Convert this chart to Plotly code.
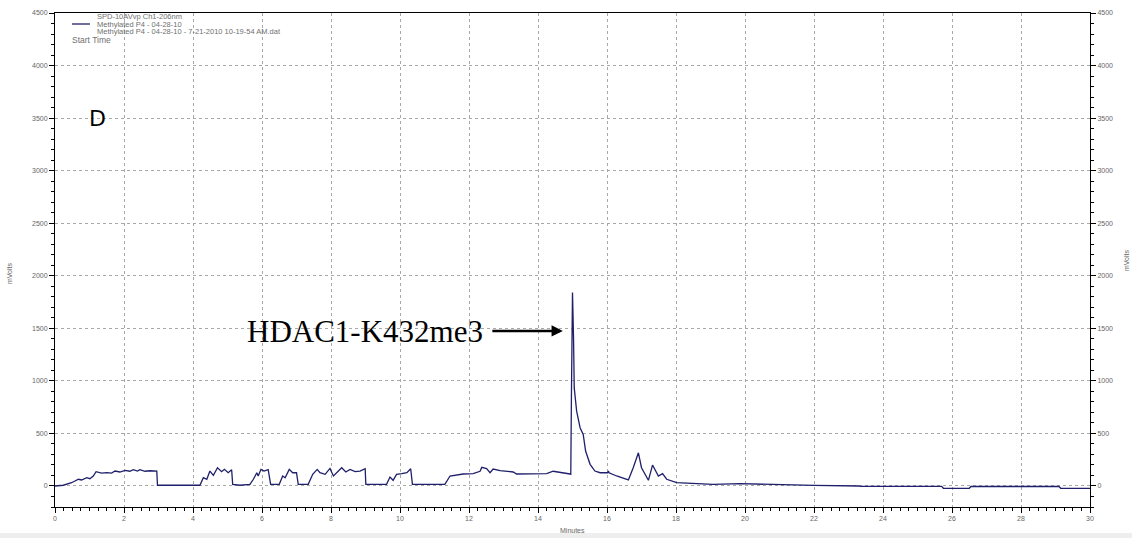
import plotly.graph_objects as go

# Chromatogram: detector response (mV) versus retention time (minutes)
minutes = [
    0.00, 0.24, 0.48, 0.68, 0.77, 0.92, 1.01, 1.11, 1.19, 1.35, 1.50, 1.64, 1.74, 1.88,
    2.03, 2.17, 2.27, 2.39, 2.46, 2.61, 2.75, 2.95, 2.97, 4.20, 4.30, 4.40, 4.49, 4.59,
    4.71, 4.83, 4.91, 5.02, 5.12, 5.15, 5.36, 5.65, 5.75, 5.85, 5.89, 5.97, 6.06, 6.18,
    6.25, 6.50, 6.60, 6.67, 6.79, 6.89, 7.00, 7.05, 7.34, 7.47, 7.60, 7.68, 7.83, 7.97,
    8.07, 8.20, 8.31, 8.43, 8.55, 8.70, 8.84, 8.99, 9.01, 9.61, 9.71, 9.80, 9.90, 10.05,
    10.20, 10.31, 10.36, 11.30, 11.45, 11.83, 12.12, 12.32, 12.37, 12.51, 12.61, 12.70,
    12.90, 13.28, 13.38, 14.25, 14.44, 14.93, 14.95, 14.97, 14.99, 15.00, 15.03, 15.05,
    15.12, 15.22, 15.31, 15.38, 15.51, 15.65, 15.80, 16.02, 16.04, 16.06, 16.28, 16.62,
    16.76, 16.91, 17.00, 17.20, 17.32, 17.49, 17.61, 17.73, 18.02, 18.70, 19.07, 19.86,
    20.43, 21.00, 22.00, 23.30, 23.35, 25.70, 25.75, 26.50, 26.55, 29.10, 29.15, 30.00,
]
millivolts = [
    0, 7, 31, 64, 57, 79, 69, 95, 136, 123, 128, 123, 142, 133,
    149, 140, 155, 142, 155, 140, 145, 142, 7, 7, 79, 64, 142, 101,
    174, 136, 158, 126, 155, 16, 7, 16, 64, 126, 95, 158, 142, 155,
    16, 16, 95, 79, 158, 126, 126, 16, 16, 111, 158, 126, 111, 167,
    95, 142, 174, 133, 158, 136, 142, 164, 16, 16, 85, 54, 111, 117,
    126, 164, 16, 16, 95, 114, 118, 140, 177, 165, 126, 161,
    146, 133, 114, 118, 140, 114, 111, 902, 1728, 1840, 1408, 933,
    712, 554, 491, 332, 206, 142, 126, 126, 142, 126, 95, 57,
    174, 316, 174, 54, 199, 95, 117, 64, 32, 22, 16, 22,
    16, 10, 5, 0, -3, -3, -22, -22, -5, -5, -22, -22,
]

x_ticks = list(range(0, 31, 2))
y_ticks = list(range(0, 4501, 500))

legend_lines = [
    "SPD-10AVvp Ch1-206nm",
    "Methylated P4 - 04-28-10",
    "Methylated P4 - 04-28-10 - 7-21-2010 10-19-54 AM.dat",
]
peak_label = "HDAC1-K432me3"

TRACE = "#1f1f6b"
SANS = "Liberation Sans, Arial"
TICK_FONT = dict(family=SANS, size=7, color="#666666")
TITLE_FONT = dict(family=SANS, size=7, color="#666666")
GRID = "#a8a8a8"

W, H = 1132, 538
L, R, T, B = 55, 42, 13, 31
PW, PH = W - L - R, H - T - B


def px_x(px):
    return (px - L) / PW


def px_y(py):
    return 1 - (py - T) / PH


fig = go.Figure()
fig.add_trace(go.Scatter(
    x=minutes, y=millivolts, mode="lines",
    line=dict(color=TRACE, width=1.3), showlegend=False, hoverinfo="x+y",
))
# companion trace that carries the right-hand mV axis
fig.add_trace(go.Scatter(
    x=minutes, y=millivolts, mode="lines", yaxis="y2",
    line=dict(color="rgba(0,0,0,0)", width=0), showlegend=False, hoverinfo="skip",
))

common_axis = dict(
    showline=True, linecolor="black", linewidth=1,
    ticks="outside", ticklen=5, tickcolor="black", tickwidth=1,
    tickfont=TICK_FONT, zeroline=False, automargin=False,
)

fig.update_layout(
    width=W, height=H,
    margin=dict(l=L, r=R, t=T, b=B, autoexpand=False),
    paper_bgcolor="white", plot_bgcolor="white",
    xaxis=dict(
        **common_axis, range=[0, 30], tickvals=x_ticks, mirror=True,
        showgrid=True, gridcolor=GRID, griddash="3px,3px", gridwidth=1,
        minor=dict(dtick=0.25, ticks="outside", ticklen=3, tickcolor="black", showgrid=False),
    ),
    yaxis=dict(
        **common_axis, range=[-200, 4500], tickvals=y_ticks,
        showgrid=True, gridcolor=GRID, griddash="3px,3px", gridwidth=1,
        minor=dict(dtick=100, ticks="outside", ticklen=3, tickcolor="black", showgrid=False),
    ),
    yaxis2=dict(
        **common_axis, range=[-200, 4500], tickvals=y_ticks, overlaying="y", side="right",
        showgrid=False,
        minor=dict(dtick=100, ticks="outside", ticklen=3, tickcolor="black", showgrid=False),
    ),
)

# axis titles
fig.add_annotation(
    xref="paper", yref="paper", x=0.5, y=px_y(530), text="Minutes",
    showarrow=False, xanchor="center", yanchor="middle", font=TITLE_FONT,
)
fig.add_annotation(
    xref="paper", yref="paper", x=px_x(9), y=px_y(273), text="mVolts",
    showarrow=False, textangle=-90, xanchor="center", yanchor="middle", font=TITLE_FONT,
)
fig.add_annotation(
    xref="paper", yref="paper", x=px_x(1126), y=px_y(260), text="mVolts",
    showarrow=False, textangle=-90, xanchor="center", yanchor="middle", font=TITLE_FONT,
    borderpad=0,
)

# legend block in the upper-left corner
legend_font = dict(family=SANS, size=7.5, color="#707070")
for i, txt in enumerate(legend_lines):
    fig.add_annotation(
        xref="paper", yref="paper", x=px_x(96), y=px_y(16 + 8 * i),
        text=txt, showarrow=False, xanchor="left", yanchor="middle",
        font=legend_font, borderpad=0,
    )
fig.add_annotation(
    xref="paper", yref="paper", x=px_x(71), y=px_y(40),
    text="Start Time", showarrow=False, xanchor="left", yanchor="middle",
    font=dict(family=SANS, size=8.5, color="#707070"), borderpad=0,
)
fig.add_shape(
    type="line", xref="paper", yref="paper",
    x0=px_x(72), x1=px_x(90), y0=px_y(24), y1=px_y(24),
    line=dict(color=TRACE, width=1.3),
)

# panel letter
fig.add_annotation(
    x=1.22, y=3500, text="D", showarrow=False, xanchor="center", yanchor="middle",
    font=dict(family="DejaVu Sans", size=22, color="black"),
)

# peak label with arrow
fig.add_annotation(
    x=12.45, y=1470, text=peak_label, showarrow=False, xanchor="right", yanchor="middle",
    font=dict(family="Liberation Serif, Times New Roman", size=31, color="black"),
)
fig.add_annotation(
    x=14.72, y=1475, ax=-72, ay=0, text="", showarrow=True,
    arrowhead=2, arrowsize=0.9, arrowwidth=2.5, arrowcolor="black",
)

# light grey band along the bottom edge
fig.add_shape(
    type="rect", xref="paper", yref="paper", layer="below",
    x0=px_x(0), x1=px_x(W), y0=px_y(H), y1=px_y(533),
    line=dict(width=0), fillcolor="#eeeeee",
)

fig.write_html("out.html")
